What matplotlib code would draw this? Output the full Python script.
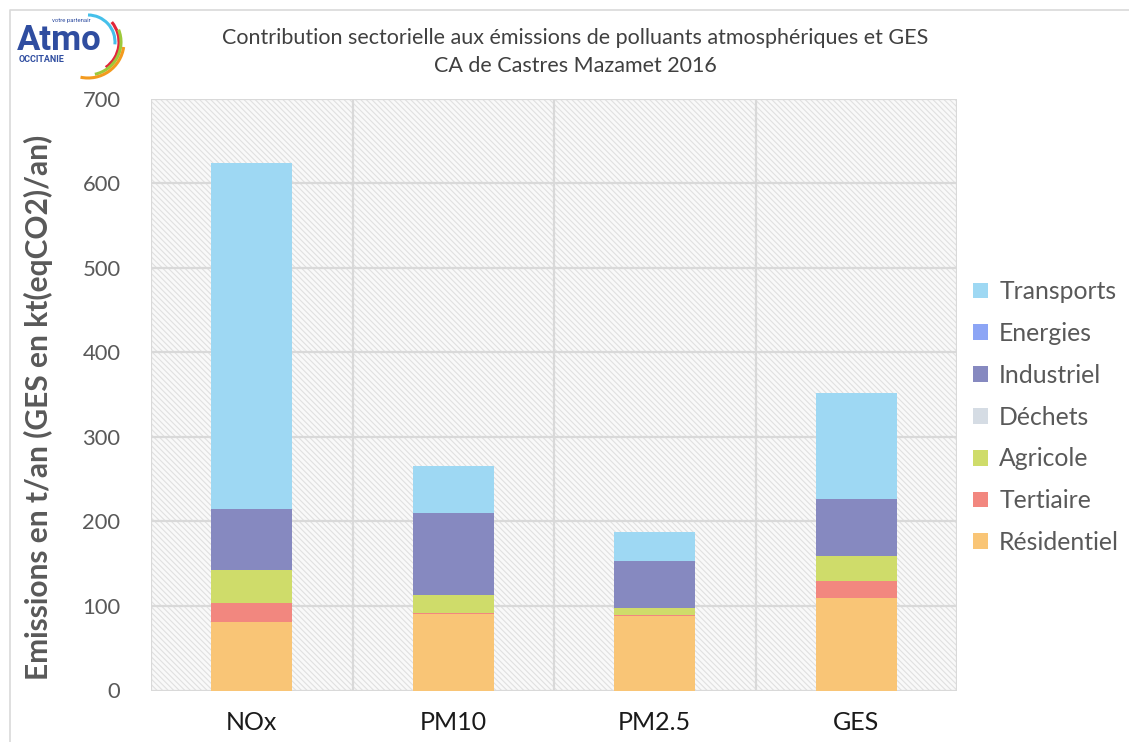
import matplotlib
matplotlib.use("Agg")
import matplotlib.pyplot as plt
from matplotlib.patches import Rectangle, Arc
import numpy as np

categories = ["NOx", "PM10", "PM2.5", "GES"]
sectors = ["Résidentiel", "Tertiaire", "Agricole", "Déchets", "Industriel", "Energies", "Transports"]
residentiel = [81, 90.5, 88.5, 110]
tertiaire = [22, 1, 1, 20]
agricole = [39.5, 22, 8, 29.5]
dechets = [0, 0, 0, 0]
industriel = [72, 97, 55.5, 66.5]
energies = [0, 0, 0, 0]
transports = [409.5, 55, 35, 125.5]
series = [residentiel, tertiaire, agricole, dechets, industriel, energies, transports]
colors = ["#F9C576", "#F2877F", "#CFDC6A", "#D5DCE4", "#8689C0", "#8CA5F5", "#9ED8F3"]
yticks = [0, 100, 200, 300, 400, 500, 600, 700]

W, H = 1129, 742
fig = plt.figure(figsize=(W / 100, H / 100), dpi=100)
plt.rcParams['hatch.color'] = '#d6d6d6'
plt.rcParams['hatch.linewidth'] = 0.8

ax = fig.add_axes([151 / W, (H - 690.5) / H, (957 - 151) / W, (690.5 - 98.7) / H])
ax.set_xlim(-0.5, 3.5)
ax.set_ylim(0, 700)
# hatched background
ax.add_patch(Rectangle((0, 0), 1, 1, transform=ax.transAxes, facecolor='#f9f9f9',
                       edgecolor='#e0e0e0', hatch='\\\\\\\\\\\\', linewidth=0, zorder=0))
for y in yticks:
    ax.axhline(y, color='#d9d9d9', lw=1.6, zorder=1)
for xb in [-0.5, 0.5, 1.5, 2.5, 3.5]:
    ax.axvline(xb, color='#d9d9d9', lw=1.6, zorder=1)
for s in ax.spines.values():
    s.set_visible(False)

x = np.arange(len(categories))
bottom = np.zeros(len(categories))
handles = {}
for name, vals, c in zip(sectors, series, colors):
    b = ax.bar(x, vals, width=0.4, bottom=bottom, color=c, edgecolor='none', zorder=3, label=name)
    handles[name] = b
    bottom += np.array(vals)

ax.set_xticks(x)
ax.set_xticklabels(categories, fontsize=18, color='#1a1a1a', family='Lato')
ax.set_yticks(yticks)
ax.set_yticklabels([str(v) for v in yticks], fontsize=15.8, color='#595959', family='Lato')
ax.tick_params(length=0, pad=22, axis='y')
ax.tick_params(length=0, pad=15, axis='x')
ax.set_ylabel("Emissions en t/an (GES en kt(eqCO2)/an)", fontsize=21.5, fontweight='bold',
              color='#595959', family='Lato')
ax.yaxis.set_label_coords(-0.121, 0.478)

order = ["Transports", "Energies", "Industriel", "Déchets", "Agricole", "Tertiaire", "Résidentiel"]
leg = fig.legend([handles[n] for n in order], order, loc='upper left',
                 bbox_to_anchor=(951 / W, 1 - 258 / H), frameon=False,
                 prop={'family': 'Lato', 'size': 17.8}, labelcolor='#595959',
                 handlelength=0.6, handleheight=0.6, handletextpad=0.45, labelspacing=0.76)

fig.text(575 / W, 1 - 38 / H, "Contribution sectorielle aux émissions de polluants atmosphériques et GES",
         ha='center', va='center', fontsize=15.5, color='#404040', family='Lato')
fig.text(575 / W, 1 - 66 / H, "CA de Castres Mazamet 2016",
         ha='center', va='center', fontsize=15.5, color='#404040', family='Lato')

# overlay for frame in pixel coords (y downwards)
ov = fig.add_axes([0, 0, 1, 1], zorder=-1)
ov.set_xlim(0, W)
ov.set_ylim(H, 0)
ov.axis('off')
ov.plot([10, 10, W], [H, 10, 10], color='#d9d9d9', lw=1.2)

# logo overlay in pixel coords (y upwards)
lg = fig.add_axes([0, 0, 1, 1], zorder=5)
lg.set_xlim(0, W)
lg.set_ylim(0, H)
lg.axis('off')
lg.text(17, H - 50, "Atmo", fontsize=25, fontweight='bold', color='#2F4DA0', family='Roboto',
        ha='left', va='baseline')
lg.text(19, H - 62, "OCCITANIE", fontsize=6.5, fontweight='bold', color='#2F4DA0', family='Roboto',
        ha='left', va='baseline')
lg.text(52, H - 22, "votre partenair", fontsize=4.3, color='#2F4DA0', family='Roboto', ha='left', va='baseline')
cx, cy = 88, H - 42
arc_specs = [(27, -5, 90, '#45C0EA'), (31, -55, 40, '#E2263A'), (33, -78, 22, '#9DC93B'), (36, -102, -8, '#F39A1E')]
for r, t1, t2, c in arc_specs:
    lg.add_patch(Arc((cx, cy), 2 * r, 2 * r, angle=0, theta1=t1, theta2=t2, color=c, lw=2.2))

fig.savefig("out.png", dpi=100)
